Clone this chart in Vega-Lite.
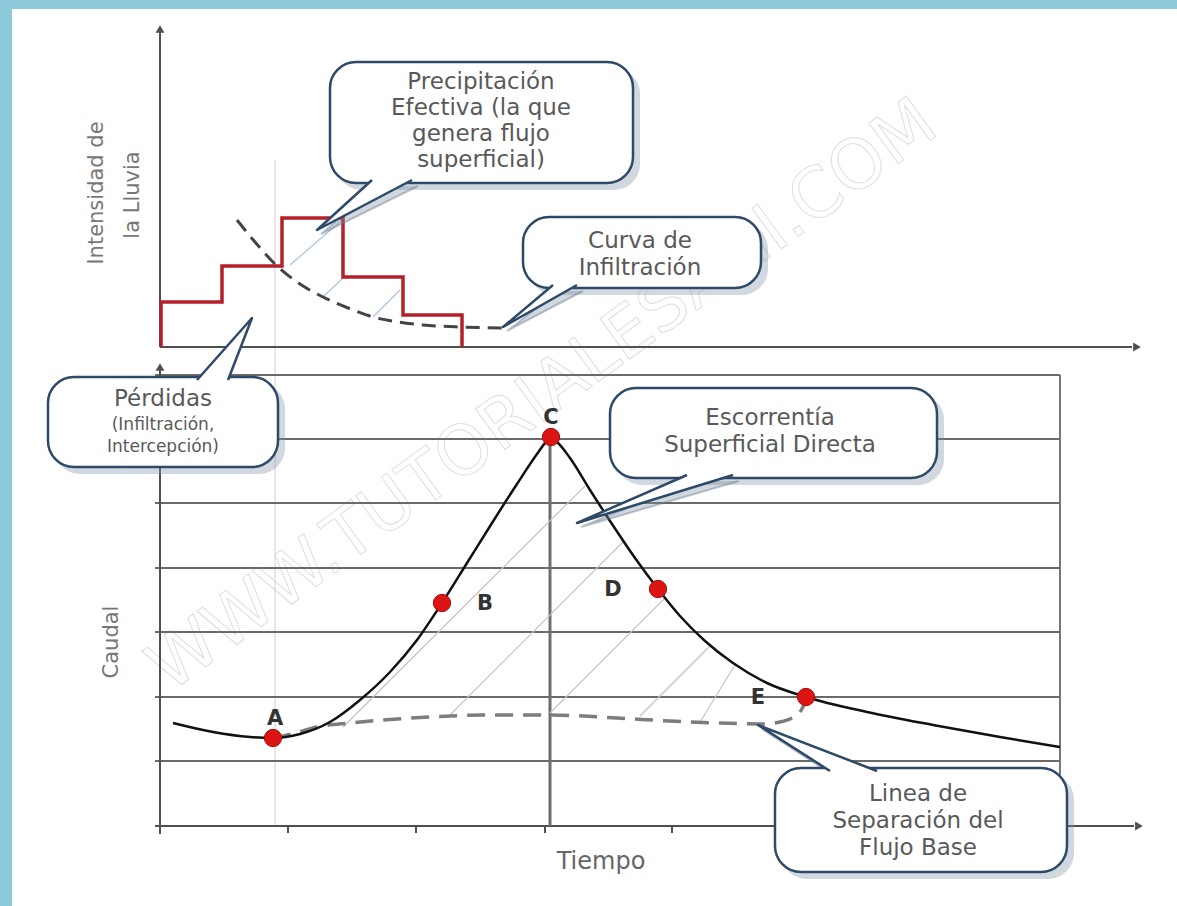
{
  "$schema": "https://vega.github.io/schema/vega-lite/v6.json",
  "width": 1177,
  "height": 906,
  "autosize": {"type": "fit", "contains": "padding"},
  "padding": 0,
  "background": "#ffffff",
  "config": {"view": {"stroke": null}},
  "datasets": {
    "bands": [{"x": 0, "x2": 1177, "y": 0, "y2": 9}, {"x": 0, "x2": 12, "y": 0, "y2": 906}],
    "watermark": [{"x": 543, "y": 396, "t": "WWW.TUTORIALESAHI.COM"}],
    "thinv": [{"x": 275, "y": 160, "x2": 275, "y2": 826}],
    "grid": [
      {"x": 155, "x2": 1060, "y": 375, "y2": 375},
      {"x": 155, "x2": 1060, "y": 439, "y2": 439},
      {"x": 155, "x2": 1060, "y": 503, "y2": 503},
      {"x": 155, "x2": 1060, "y": 568, "y2": 568},
      {"x": 155, "x2": 1060, "y": 632, "y2": 632},
      {"x": 155, "x2": 1060, "y": 697, "y2": 697},
      {"x": 155, "x2": 1060, "y": 761, "y2": 761},
      {"x": 1060, "x2": 1060, "y": 375, "y2": 775}
    ],
    "axes": [
      {"x": 160, "x2": 160, "y": 347, "y2": 32},
      {"x": 160, "x2": 1132, "y": 347, "y2": 347},
      {"x": 160, "x2": 160, "y": 826, "y2": 370},
      {"x": 155, "x2": 1134, "y": 826, "y2": 826},
      {"x": 160, "x2": 160, "y": 826, "y2": 834},
      {"x": 288, "x2": 288, "y": 826, "y2": 833},
      {"x": 416, "x2": 416, "y": 826, "y2": 833},
      {"x": 545, "x2": 545, "y": 826, "y2": 833},
      {"x": 672, "x2": 672, "y": 826, "y2": 833}
    ],
    "peak": [{"x": 550, "x2": 550, "y": 437, "y2": 826}],
    "hatch": [
      {"x": 343, "y": 727, "x2": 585, "y2": 486},
      {"x": 450, "y": 715, "x2": 624, "y2": 541},
      {"x": 550, "y": 713, "x2": 665, "y2": 598},
      {"x": 640, "y": 716, "x2": 710, "y2": 646},
      {"x": 700, "y": 722, "x2": 735, "y2": 665}
    ],
    "tophatch": [
      {"x": 290, "y": 265, "x2": 342, "y2": 220},
      {"x": 323, "y": 297, "x2": 343, "y2": 278},
      {"x": 373, "y": 317, "x2": 400, "y2": 290}
    ],
    "steps": [
      {"i": 0, "x": 161, "y": 347}, {"i": 1, "x": 161, "y": 302}, {"i": 2, "x": 222, "y": 302},
      {"i": 3, "x": 222, "y": 266}, {"i": 4, "x": 282, "y": 266}, {"i": 5, "x": 282, "y": 218},
      {"i": 6, "x": 343, "y": 218}, {"i": 7, "x": 343, "y": 277}, {"i": 8, "x": 403, "y": 277},
      {"i": 9, "x": 403, "y": 315}, {"i": 10, "x": 462, "y": 315}, {"i": 11, "x": 462, "y": 347}
    ],
    "infil": [
      {"x": 237, "y": 220}, {"x": 255, "y": 242}, {"x": 277, "y": 266}, {"x": 300, "y": 284},
      {"x": 323, "y": 297}, {"x": 348, "y": 308}, {"x": 373, "y": 317}, {"x": 398, "y": 322},
      {"x": 423, "y": 325}, {"x": 460, "y": 327}, {"x": 503, "y": 328}
    ],
    "base": [
      {"x": 273, "y": 738}, {"x": 295, "y": 733}, {"x": 317, "y": 727}, {"x": 350, "y": 723},
      {"x": 383, "y": 720}, {"x": 430, "y": 717}, {"x": 483, "y": 715}, {"x": 550, "y": 715},
      {"x": 617, "y": 718}, {"x": 670, "y": 721}, {"x": 720, "y": 723}, {"x": 760, "y": 724},
      {"x": 780, "y": 722}, {"x": 792, "y": 718}, {"x": 800, "y": 712}, {"x": 804, "y": 705}
    ],
    "hydro": [
      {"x": 173, "y": 723}, {"x": 213, "y": 732}, {"x": 250, "y": 737}, {"x": 273, "y": 738},
      {"x": 300, "y": 734}, {"x": 330, "y": 722}, {"x": 360, "y": 700}, {"x": 390, "y": 672},
      {"x": 417, "y": 640}, {"x": 442, "y": 603}, {"x": 467, "y": 563}, {"x": 492, "y": 523},
      {"x": 517, "y": 484}, {"x": 537, "y": 454}, {"x": 546, "y": 442}, {"x": 551, "y": 438},
      {"x": 557, "y": 442}, {"x": 570, "y": 458}, {"x": 590, "y": 490}, {"x": 612, "y": 524},
      {"x": 635, "y": 558}, {"x": 658, "y": 589}, {"x": 680, "y": 616}, {"x": 705, "y": 641},
      {"x": 733, "y": 663}, {"x": 767, "y": 683}, {"x": 806, "y": 697}, {"x": 867, "y": 712},
      {"x": 933, "y": 725}, {"x": 1000, "y": 737}, {"x": 1060, "y": 747}
    ],
    "arrowsUp": [{"x": 160, "y": 29}, {"x": 160, "y": 367}],
    "arrowsRight": [{"x": 1137, "y": 347}, {"x": 1139, "y": 826}],
    "points": [
      {"x": 273, "y": 738, "t": "A", "lx": 275, "ly": 719},
      {"x": 442, "y": 603, "t": "B", "lx": 485, "ly": 604},
      {"x": 551, "y": 437, "t": "C", "lx": 551, "ly": 418},
      {"x": 658, "y": 589, "t": "D", "lx": 613, "ly": 590},
      {"x": 806, "y": 697, "t": "E", "lx": 758, "ly": 698}
    ],
    "vtitles": [
      {"x": 97, "y": 193, "t": "Intensidad de"},
      {"x": 133, "y": 195, "t": "la Lluvia"},
      {"x": 112, "y": 642, "t": "Caudal"}
    ],
    "htitle": [{"x": 601, "y": 862, "t": "Tiempo"}],
    "shadows": [
      {"x": 336, "x2": 640, "y": 68, "y2": 190},
      {"x": 529, "x2": 768, "y": 223, "y2": 295},
      {"x": 54, "x2": 285, "y": 383, "y2": 474},
      {"x": 616, "x2": 944, "y": 394, "y2": 485},
      {"x": 781, "x2": 1074, "y": 774, "y2": 879}
    ],
    "tailShadows": [
      {"g": 1, "i": 0, "x": 378, "y": 186}, {"g": 1, "i": 1, "x": 321, "y": 234}, {"g": 1, "i": 2, "x": 418, "y": 186},
      {"g": 2, "i": 0, "x": 559, "y": 291}, {"g": 2, "i": 1, "x": 507, "y": 331}, {"g": 2, "i": 2, "x": 583, "y": 291},
      {"g": 4, "i": 0, "x": 693, "y": 481}, {"g": 4, "i": 1, "x": 581, "y": 527}, {"g": 4, "i": 2, "x": 739, "y": 481},
      {"g": 5, "i": 0, "x": 836, "y": 777}, {"g": 5, "i": 1, "x": 762, "y": 729}, {"g": 5, "i": 2, "x": 883, "y": 777}
    ],
    "boxes": [
      {"x": 330, "x2": 633, "y": 62, "y2": 183},
      {"x": 523, "x2": 761, "y": 217, "y2": 288},
      {"x": 48, "x2": 278, "y": 377, "y2": 467},
      {"x": 610, "x2": 937, "y": 388, "y2": 478},
      {"x": 775, "x2": 1067, "y": 768, "y2": 872}
    ],
    "tails": [
      {"g": 1, "i": 0, "x": 372, "y": 180}, {"g": 1, "i": 1, "x": 317, "y": 230}, {"g": 1, "i": 2, "x": 412, "y": 180},
      {"g": 2, "i": 0, "x": 553, "y": 285}, {"g": 2, "i": 1, "x": 503, "y": 327}, {"g": 2, "i": 2, "x": 577, "y": 285},
      {"g": 3, "i": 0, "x": 197, "y": 380}, {"g": 3, "i": 1, "x": 252, "y": 318}, {"g": 3, "i": 2, "x": 228, "y": 380},
      {"g": 4, "i": 0, "x": 687, "y": 475}, {"g": 4, "i": 1, "x": 577, "y": 523}, {"g": 4, "i": 2, "x": 733, "y": 475},
      {"g": 5, "i": 0, "x": 830, "y": 771}, {"g": 5, "i": 1, "x": 758, "y": 725}, {"g": 5, "i": 2, "x": 877, "y": 771}
    ],
    "ctext": [
      {"x": 481, "y": 82, "t": "Precipitación"},
      {"x": 481, "y": 108, "t": "Efectiva (la que"},
      {"x": 481, "y": 134, "t": "genera flujo"},
      {"x": 481, "y": 160, "t": "superficial)"},
      {"x": 640, "y": 241, "t": "Curva de"},
      {"x": 640, "y": 268, "t": "Infiltración"},
      {"x": 770, "y": 418, "t": "Escorrentía"},
      {"x": 770, "y": 445, "t": "Superficial Directa"},
      {"x": 918, "y": 794, "t": "Linea de"},
      {"x": 918, "y": 821, "t": "Separación del"},
      {"x": 918, "y": 848, "t": "Flujo Base"},
      {"x": 163, "y": 399, "t": "Pérdidas"}
    ],
    "ctextSmall": [
      {"x": 163, "y": 425, "t": "(Infiltración,"},
      {"x": 163, "y": 447, "t": "Intercepción)"}
    ]
  },
  "encoding": {
    "x": {"field": "x", "type": "quantitative", "scale": {"domain": [0, 1177], "nice": false, "zero": false}, "axis": null},
    "y": {"field": "y", "type": "quantitative", "scale": {"domain": [0, 906], "nice": false, "zero": false, "reverse": true}, "axis": null}
  },
  "layer": [
    {"data": {"name": "bands"}, "mark": {"type": "rect", "fill": "#8ccadc"}, "encoding": {"x2": {"field": "x2"}, "y2": {"field": "y2"}}},
    {"data": {"name": "watermark"}, "mark": {"type": "text", "font": "DejaVu Sans", "fontSize": 69, "angle": 324, "align": "center", "baseline": "middle", "fill": "#ffffff", "fillOpacity": 0, "stroke": "#dedede", "strokeWidth": 1}, "encoding": {"text": {"field": "t"}}},
    {"data": {"name": "thinv"}, "mark": {"type": "rule", "stroke": "#cfcfcf", "strokeWidth": 1}, "encoding": {"x2": {"field": "x2"}, "y2": {"field": "y2"}}},
    {"data": {"name": "grid"}, "mark": {"type": "rule", "stroke": "#6a6a6a", "strokeWidth": 1.8}, "encoding": {"x2": {"field": "x2"}, "y2": {"field": "y2"}}},
    {"data": {"name": "axes"}, "mark": {"type": "rule", "stroke": "#505050", "strokeWidth": 2}, "encoding": {"x2": {"field": "x2"}, "y2": {"field": "y2"}}},
    {"data": {"name": "peak"}, "mark": {"type": "rule", "stroke": "#6e6e6e", "strokeWidth": 3}, "encoding": {"x2": {"field": "x2"}, "y2": {"field": "y2"}}},
    {"data": {"name": "hatch"}, "mark": {"type": "rule", "stroke": "#c4c4c4", "strokeWidth": 1.2}, "encoding": {"x2": {"field": "x2"}, "y2": {"field": "y2"}}},
    {"data": {"name": "tophatch"}, "mark": {"type": "rule", "stroke": "#a9c6de", "strokeWidth": 1.2}, "encoding": {"x2": {"field": "x2"}, "y2": {"field": "y2"}}},
    {"data": {"name": "steps"}, "mark": {"type": "line", "stroke": "#b3202a", "strokeWidth": 3.5, "strokeJoin": "miter"}, "encoding": {"order": {"field": "i"}}},
    {"data": {"name": "infil"}, "mark": {"type": "line", "stroke": "#444444", "strokeWidth": 3, "strokeDash": [14, 8], "interpolate": "monotone"}, "encoding": {}},
    {"data": {"name": "base"}, "mark": {"type": "line", "stroke": "#7c7c7c", "strokeWidth": 3.5, "strokeDash": [18, 10], "interpolate": "monotone"}, "encoding": {}},
    {"data": {"name": "hydro"}, "mark": {"type": "line", "stroke": "#111111", "strokeWidth": 2.5, "interpolate": "monotone"}, "encoding": {}},
    {"data": {"name": "arrowsUp"}, "mark": {"type": "point", "shape": "triangle-up", "filled": true, "fill": "#505050", "size": 80, "opacity": 1}},
    {"data": {"name": "arrowsRight"}, "mark": {"type": "point", "shape": "triangle-right", "filled": true, "fill": "#505050", "size": 80, "opacity": 1}},
    {"data": {"name": "points"}, "mark": {"type": "point", "shape": "circle", "filled": true, "fill": "#dd1414", "stroke": "#a80c0c", "strokeWidth": 1, "size": 300, "opacity": 1}},
    {"data": {"name": "points"}, "mark": {"type": "text", "font": "DejaVu Sans", "fontSize": 21, "fontWeight": "bold", "fill": "#333333", "align": "center", "baseline": "middle"}, "encoding": {"x": {"field": "lx", "type": "quantitative"}, "y": {"field": "ly", "type": "quantitative"}, "text": {"field": "t"}}},
    {"data": {"name": "vtitles"}, "mark": {"type": "text", "font": "DejaVu Sans", "fontSize": 21, "angle": 270, "fill": "#777777", "align": "center", "baseline": "middle"}, "encoding": {"text": {"field": "t"}}},
    {"data": {"name": "htitle"}, "mark": {"type": "text", "font": "DejaVu Sans", "fontSize": 24, "fill": "#666666", "align": "center", "baseline": "middle"}, "encoding": {"text": {"field": "t"}}},
    {"data": {"name": "shadows"}, "mark": {"type": "rect", "fill": "#7f8fa3", "opacity": 0.35, "cornerRadius": 26}, "encoding": {"x2": {"field": "x2"}, "y2": {"field": "y2"}}},
    {"data": {"name": "tailShadows"}, "mark": {"type": "line", "fill": "#7f8fa3", "fillOpacity": 0.35, "stroke": "#5f7088", "strokeOpacity": 0.4, "strokeWidth": 2}, "encoding": {"detail": {"field": "g"}, "order": {"field": "i"}}},
    {"data": {"name": "boxes"}, "mark": {"type": "rect", "fill": "#ffffff", "stroke": "#2e4a68", "strokeWidth": 2.5, "cornerRadius": 26}, "encoding": {"x2": {"field": "x2"}, "y2": {"field": "y2"}}},
    {"data": {"name": "tails"}, "mark": {"type": "line", "fill": "#ffffff", "stroke": "#2e4a68", "strokeWidth": 2.5, "strokeJoin": "round"}, "encoding": {"detail": {"field": "g"}, "order": {"field": "i"}}},
    {"data": {"name": "ctext"}, "mark": {"type": "text", "font": "DejaVu Sans", "fontSize": 23, "fill": "#595959", "align": "center", "baseline": "middle"}, "encoding": {"text": {"field": "t"}}},
    {"data": {"name": "ctextSmall"}, "mark": {"type": "text", "font": "DejaVu Sans", "fontSize": 17, "fill": "#595959", "align": "center", "baseline": "middle"}, "encoding": {"text": {"field": "t"}}}
  ]
}
